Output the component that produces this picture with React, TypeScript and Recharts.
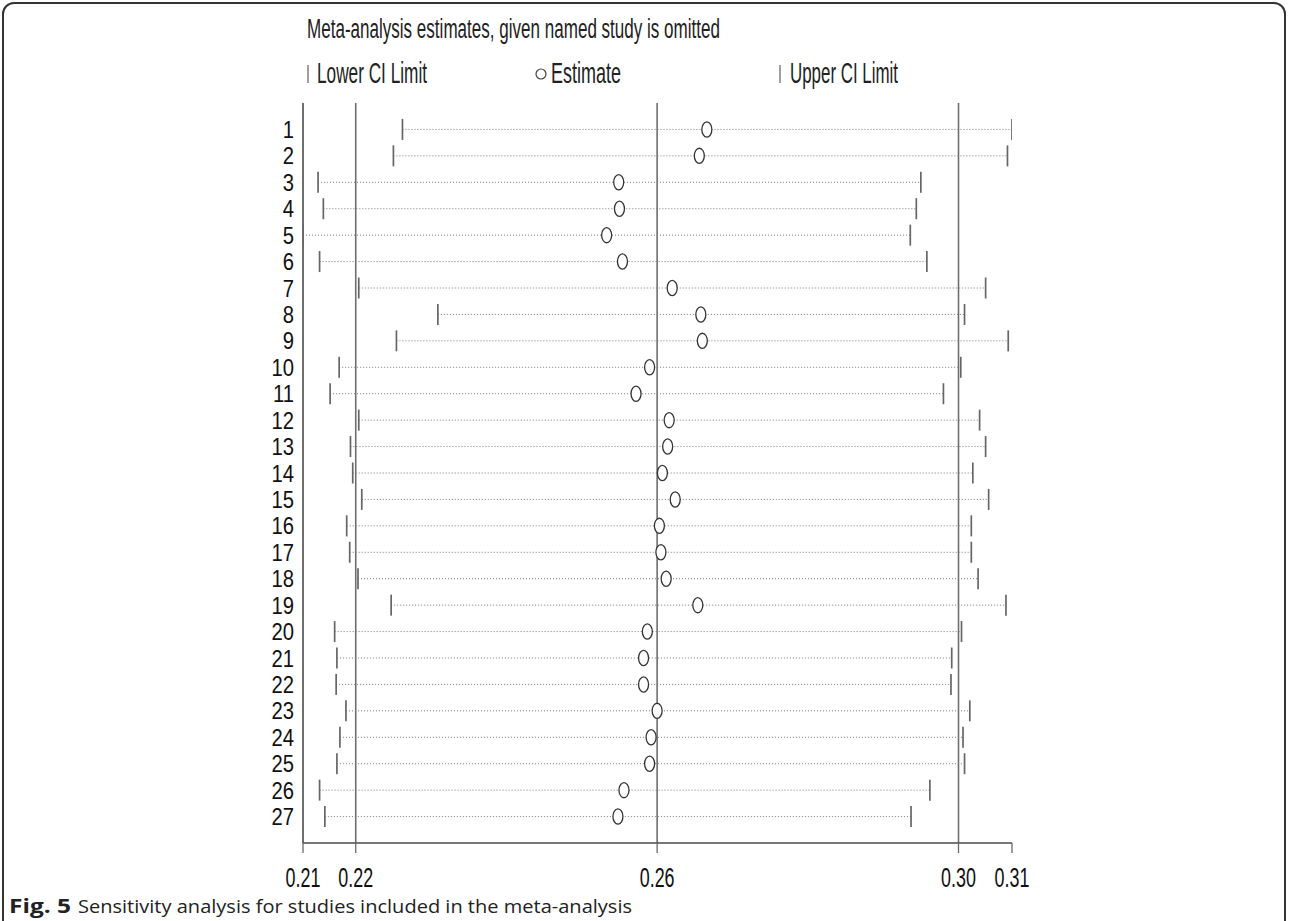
import React from 'react';
import { ScatterChart, XAxis, YAxis, Scatter, ReferenceLine } from 'recharts';

const studies = [1, 2, 3, 4, 5, 6, 7, 8, 9, 10, 11, 12, 13, 14, 15, 16, 17, 18, 19, 20, 21, 22, 23, 24, 25, 26, 27];
const estimates = [0.2666, 0.2656, 0.2549, 0.2550, 0.2533, 0.2554, 0.2620, 0.2658, 0.2660, 0.2590, 0.2572, 0.2616, 0.2614, 0.2607, 0.2624, 0.2603, 0.2605, 0.2612, 0.2654, 0.2587, 0.2582, 0.2582, 0.2600, 0.2592, 0.2590, 0.2556, 0.2548];
const lowerCI = [0.2262, 0.2250, 0.2150, 0.2157, 0.2130, 0.2152, 0.2204, 0.2309, 0.2254, 0.2178, 0.2166, 0.2204, 0.2193, 0.2196, 0.2208, 0.2188, 0.2192, 0.2203, 0.2247, 0.2172, 0.2175, 0.2174, 0.2187, 0.2179, 0.2175, 0.2152, 0.2159];
const upperCI = [0.3071, 0.3065, 0.2950, 0.2944, 0.2936, 0.2958, 0.3036, 0.3008, 0.3066, 0.3003, 0.2980, 0.3028, 0.3036, 0.3019, 0.3040, 0.3017, 0.3017, 0.3026, 0.3063, 0.3004, 0.2991, 0.2990, 0.3015, 0.3006, 0.3008, 0.2962, 0.2937];
const overallLines = [0.22, 0.26, 0.30];
const xTicks = [0.2130, 0.22, 0.26, 0.30, 0.3071];
const xDomain = [0.2130, 0.3071];
const yDomain = [0, 28];

const titleText = 'Meta-analysis estimates, given named study is omitted';
const legendLower = 'Lower CI Limit';
const legendEst = 'Estimate';
const legendUpper = 'Upper CI Limit';
const captionBold = 'Fig. 5';
const captionRest = 'Sensitivity analysis for studies included in the meta-analysis';

const estPts = studies.map((s, i) => ({ x: estimates[i], y: s }));
const lowerPts = studies.map((s, i) => ({ x: lowerCI[i], y: s }));
const upperPts = studies.map((s, i) => ({ x: upperCI[i], y: s }));

const FONT = '"Liberation Sans", Arial, sans-serif';

const CiTick = (p: any) => (
  <line x1={p.cx} x2={p.cx} y1={p.cy - 10.5} y2={p.cy + 10.5} stroke="#666" strokeWidth={1.7} />
);
const EstMark = (p: any) => (
  <ellipse cx={p.cx} cy={p.cy} rx={5} ry={7.6} fill="#fff" stroke="#333" strokeWidth={1.3} />
);

const YTick = (p: any) => {
  const { x, y, payload } = p;
  return (
    <g transform={`translate(${x},${y + 8.5}) scale(0.88,1)`}>
      <text x={0} y={0} textAnchor="end" fontFamily={FONT} fontSize={23} fill="#111">
        {payload.value}
      </text>
    </g>
  );
};

const XTick = (p: any) => {
  const { x, y, payload } = p;
  return (
    <g transform={`translate(${x},${y + 32}) scale(0.64,1)`}>
      <text x={0} y={0} textAnchor="middle" fontFamily={FONT} fontSize={28} fill="#111">
        {Number(payload.value).toFixed(2)}
      </text>
    </g>
  );
};

export default function App() {
  return (
    <div style={{ position: 'absolute', left: 0, top: 0, width: 1290, height: 921, overflow: 'hidden', background: '#fff' }}>
      <div
        style={{
          position: 'absolute', left: 2, top: 2, width: 1284, height: 932,
          border: '2px solid #333', borderRadius: 12, boxSizing: 'border-box',
        }}
      />
      <div style={{ position: 'absolute', left: 0, top: 0 }}>
        <ScatterChart width={1290} height={921} margin={{ top: 103, right: 278, bottom: 38, left: 243 }}>
          <XAxis
            type="number"
            dataKey="x"
            domain={xDomain}
            ticks={xTicks}
            interval={0}
            allowDataOverflow
            height={40}
            tickSize={10}
            tickMargin={2}
            axisLine={{ stroke: '#4a4a4a', strokeWidth: 1.6 }}
            tickLine={{ stroke: '#6a6a6a', strokeWidth: 1.3 }}
            tick={<XTick />}
          />
          <YAxis
            type="number"
            dataKey="y"
            domain={yDomain}
            reversed
            ticks={studies}
            interval={0}
            allowDataOverflow
            width={60}
            tickSize={0}
            tickMargin={9}
            axisLine={{ stroke: '#4a4a4a', strokeWidth: 1.6 }}
            tickLine={false}
            tick={<YTick />}
          />
          {overallLines.map((v) => (
            <ReferenceLine key={'o' + v} x={v} stroke="#6f6f6f" strokeWidth={1.6} />
          ))}
          {studies.map((s, i) => (
            <ReferenceLine
              key={'r' + s}
              segment={[{ x: lowerCI[i], y: s }, { x: upperCI[i], y: s }]}
              stroke="#7a7a7a"
              strokeWidth={1}
              strokeDasharray="1 2"
            />
          ))}
          <Scatter data={lowerPts} shape={CiTick} isAnimationActive={false} />
          <Scatter data={upperPts} shape={CiTick} isAnimationActive={false} />
          <Scatter data={estPts} shape={EstMark} isAnimationActive={false} />
        </ScatterChart>
      </div>
      <svg width={1290} height={921} style={{ position: 'absolute', left: 0, top: 0, pointerEvents: 'none' }}>
        <text x={307} y={38} fontFamily={FONT} fontSize={27} fill="#222" textLength={413} lengthAdjust="spacingAndGlyphs">
          {titleText}
        </text>
        <line x1={308} x2={308} y1={65} y2={83} stroke="#777" strokeWidth={1.4} />
        <text x={317} y={83} fontFamily={FONT} fontSize={29} fill="#222" textLength={110} lengthAdjust="spacingAndGlyphs">
          {legendLower}
        </text>
        <circle cx={541} cy={74} r={5} fill="#fff" stroke="#444" strokeWidth={1.2} />
        <text x={551} y={83} fontFamily={FONT} fontSize={29} fill="#222" textLength={70} lengthAdjust="spacingAndGlyphs">
          {legendEst}
        </text>
        <line x1={780} x2={780} y1={65} y2={83} stroke="#777" strokeWidth={1.4} />
        <text x={790} y={83} fontFamily={FONT} fontSize={29} fill="#222" textLength={108} lengthAdjust="spacingAndGlyphs">
          {legendUpper}
        </text>
        <text y={913} fontFamily='"Open Sans", "Noto Sans", sans-serif' fontSize={19} fill="#222">
          <tspan x={9} fontWeight="bold" textLength={62} lengthAdjust="spacingAndGlyphs">{captionBold}</tspan>
          <tspan x={78} textLength={554} lengthAdjust="spacingAndGlyphs">{captionRest}</tspan>
        </text>
      </svg>
    </div>
  );
}
